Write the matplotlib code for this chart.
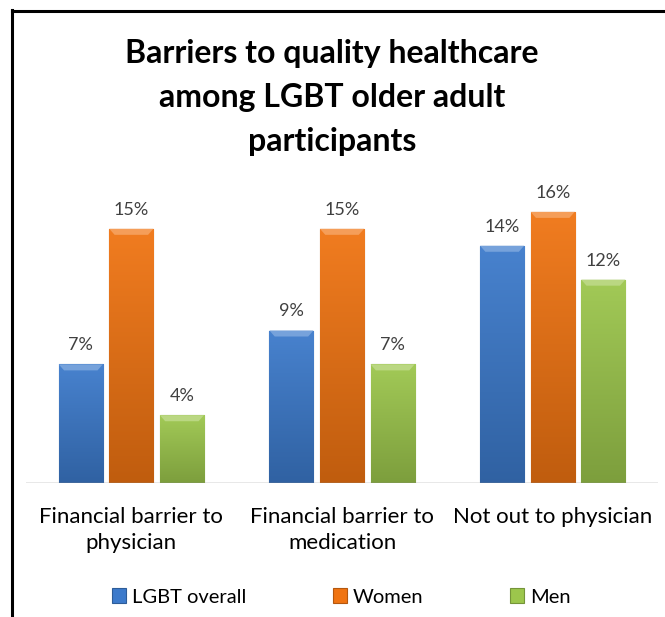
import numpy as np
import matplotlib
matplotlib.use("Agg")
import matplotlib.pyplot as plt
from matplotlib import font_manager
from matplotlib.patches import Polygon
import matplotlib.colors as mcolors

categories = ["Financial barrier to\nphysician", "Financial barrier to\nmedication", "Not out to physician"]
series_names = ["LGBT overall", "Women", "Men"]
lgbt_overall = [7, 9, 14]
women = [15, 15, 16]
men = [4, 7, 12]
series_values = [lgbt_overall, women, men]
colors = ["#3c7acb", "#f07412", "#9cc64c"]
title_lines = ["Barriers to quality healthcare", "among LGBT older adult", "participants"]

avail = {f.name for f in font_manager.fontManager.ttflist}
fam = next((f for f in ["Lato", "Open Sans", "Liberation Sans"] if f in avail), "DejaVu Sans")
plt.rcParams['font.family'] = [fam, 'DejaVu Sans']

W, H = 665, 617
fig = plt.figure(figsize=(W/100, H/100), dpi=100)
ax = fig.add_axes([26/W, (H-483)/H, 632/W, 305/H])
ax.set_xlim(-0.5, 2.5)
ax.set_ylim(0, 18)

x = np.arange(len(categories))
bw = 0.209
off = 0.24
px_per_unit = 305/18.0
cap = 6/px_per_unit
handles = []
for i, (name, vals, c) in enumerate(zip(series_names, series_values, colors)):
    base = np.array(mcolors.to_rgb(c))
    bars = ax.bar(x + (i-1)*off, vals, bw, color=c, edgecolor=mcolors.to_hex(base*0.75),
                  linewidth=0.8, label=name, zorder=2)
    handles.append(bars)
    light = np.clip(base + (1-base)*0.06, 0, 1)
    dark = base*0.80
    for b, v in zip(bars, vals):
        x0 = b.get_x(); w = b.get_width()
        grad = np.linspace(0, 1, 100)[:, None]
        img = (light[None, None, :]*(1-grad[:, :, None]) + dark[None, None, :]*grad[:, :, None])
        img = np.repeat(img, 2, axis=1)
        im = ax.imshow(img, extent=[x0, x0+w, 0, v], aspect='auto', origin='upper', zorder=2.5)
        im.set_clip_path(b)
        capc = np.clip(base + (1-base)*0.30, 0, 1)
        dx = w*0.12
        ax.add_patch(Polygon([[x0, v], [x0+w, v], [x0+w-dx, v-cap], [x0+dx, v-cap]], closed=True,
                             facecolor=capc, edgecolor='none', zorder=3))
        ax.text(b.get_x()+w/2, v + 0.65, f"{v}%", ha='center', va='bottom', fontsize=13, color='#404040')

ax.axhline(0, color='#8c8c8c', lw=1, zorder=4)
ax.set_xticks(x)
ax.set_xticklabels(categories, fontsize=16, color='black', linespacing=1.4)
ax.tick_params(axis='x', length=0, pad=17)
ax.set_yticks([])
for s in ax.spines.values():
    s.set_visible(False)

for k, line in enumerate(title_lines):
    fig.text(332/W, 1-(63+44*k)/H, line, ha='center', va='baseline', fontsize=23, fontweight='bold')

fig.legend(handles=[h.patches[0] for h in handles], labels=series_names, loc='center',
           bbox_to_anchor=(341.5/W, 1-597/H), ncol=3, frameon=False, fontsize=14.5,
           handlelength=0.7, handleheight=0.7, handletextpad=0.3, columnspacing=4.3)

# frame lines of the chart box
fig.add_artist(plt.Line2D([11.5/W, 11.5/W], [0, 1-10/H], color='black', lw=2.2, transform=fig.transFigure))
fig.add_artist(plt.Line2D([11.5/W, 1], [1-10.5/H, 1-10.5/H], color='black', lw=2.2, transform=fig.transFigure))

fig.savefig("out.png", dpi=100)
